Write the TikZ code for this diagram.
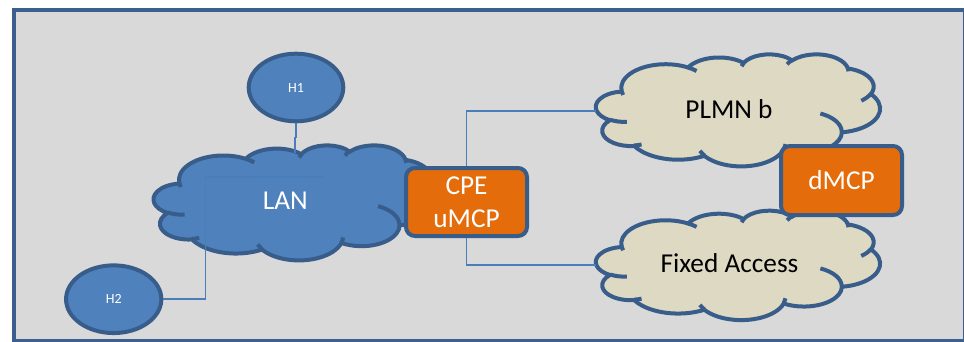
\documentclass[tikz,border=0pt]{standalone}
\usepackage{fontspec}
\setmainfont{Carlito}
\usetikzlibrary{shapes.geometric}

\definecolor{bggray}{HTML}{D9D9D9}
\definecolor{edgeblue}{HTML}{385D8A}
\definecolor{frameblue}{HTML}{3B5F8E}
\definecolor{lanblue}{HTML}{4F81BD}
\definecolor{wireblue}{HTML}{4A7EBB}
\definecolor{sand}{HTML}{DDD9C3}
\definecolor{mcporange}{HTML}{E46C0A}

% elliptical arc given by its visual start angle and sweep (cloud outline)
\newcommand\carc[4]{arc[x radius=#1, y radius=#2,
  start angle={cpa(#1,#2,#3)},
  delta angle={#4+cdv(#1,#2,#3+#4)-cdv(#1,#2,#3)}]}

% cloud outline in a 432 x 432 box: #1 fill, #2/#3 top left corner, #4 width, #5 height
\newcommand\pcloud[5]{%
  \pgfmathsetmacro\pcsx{#4/432}%
  \pgfmathsetmacro\pcsy{#5/432}%
  \begin{scope}[shift={(#2,#3)}, x=\pcsx pt, y=-\pcsy pt]
    \path[cloudline, fill=#1]
      (39.00,143.70)
      \carc{67.53}{91.90}{-190.48748}{123.78053}
      \carc{53.33}{72.67}{-144.10238}{89.94523}
      \carc{43.65}{59.45}{-145.80792}{99.72302}
      \carc{48.57}{65.95}{-130.98607}{117.24173}
      \carc{53.33}{72.73}{-78.70888}{109.02692}
      \carc{67.75}{92.20}{-46.26725}{130.269}
      \carc{57.85}{78.67}{0.62502}{114.03333}
      \carc{67.52}{92.15}{22.4516}{115.17255}
      \carc{77.20}{105.43}{66.24263}{75.71102}
      \carc{43.60}{59.18}{-274.94208}{146.73557}
      \carc{43.45}{59.45}{-246.8285}{152.51885}
      -- cycle;
    \path[cloudline]
      (46.93,261.77) \carc{43.45}{59.45}{86.742}{26.4295}
      (69.28,348.99) \carc{43.60}{59.18}{73.61047}{11.44747}
      (164.78,390.90) \carc{67.52}{92.15}{137.62415}{14.0811}
      (288.27,347.51) \carc{67.52}{92.15}{6.45327}{15.99835}
      (341.29,229.54) \carc{57.85}{78.67}{-70.29235}{70.91737}
      (417.98,153.54) \carc{53.33}{72.73}{30.31803}{27.7515}
      (383.24,54.26) \carc{48.57}{65.95}{-13.74433}{14.8589}
      (290.78,39.52) \carc{48.57}{65.95}{-149.18145}{18.19537}
      (221.41,47.20) \carc{43.65}{59.45}{-163.49427}{17.68635}
      (140.00,51.92) \carc{67.53}{91.90}{-66.70695}{12.31935}
      (41.27,157.89) \carc{67.53}{91.90}{157.65435}{11.85817};
  \end{scope}}

\begin{document}
\begin{tikzpicture}[x=1pt, y=-1pt,
  declare function={
    cpa(\rx,\ry,\ang)=atan2(\rx*sin(\ang),\ry*cos(\ang));
    cdv(\rx,\ry,\ang)=atan2(sin(cpa(\rx,\ry,\ang)-(\ang)),cos(cpa(\rx,\ry,\ang)-(\ang)));
  },
  cloudline/.style={draw=edgeblue, line width=4pt},
  frame/.style={draw=frameblue, line width=4pt, fill=bggray},
  host/.style={ellipse, draw=edgeblue, line width=4pt, fill=lanblue, inner sep=0pt,
    text=white, font=\fontsize{14}{16}\selectfont},
  mcpbox/.style={rectangle, rounded corners=9pt, draw=edgeblue, line width=4pt,
    fill=mcporange, inner sep=0pt, minimum width=121pt, text=white, align=center,
    font=\fontsize{27.3}{33.3}\selectfont},
  cloudtext/.style={anchor=base, inner sep=0pt, font=\fontsize{27.3}{31}\selectfont},
  wire/.style={draw=wireblue, line width=1.6pt},
]
\useasboundingbox (0,0) rectangle (964,341);
\fill[white] (0,0) rectangle (964,341);
\path[frame] (13.8,9.7) rectangle (964.6,340.6);

% LAN cloud and its hosts
\pcloud{lanblue}{153.7}{145}{284}{115}
\coordinate (lantop) at (295,153);
\coordinate (lanin) at (323,177);
\node[cloudtext, text=white] (lanlabel) at (285.3,209.3) {LAN};

\node[host, minimum width=94.6pt, minimum height=67.6pt] (h1) at (296,87.5) {H1};
\node[host, minimum width=95.3pt, minimum height=67.7pt] (h2) at (113.7,299.2) {H2};
\draw[wire] (h1.south) -- ++(0,14) -| (lantop);
\draw[wire] (h2.east) -- ++(42,0) |- (lanin);

% access clouds
\pcloud{sand}{596}{54}{284}{112}
\node[cloudtext] (plmnlabel) at (729,118.3) {PLMN b};
\pcloud{sand}{596}{210.3}{284}{109.4}
\node[cloudtext] (fixedlabel) at (729.5,272.7) {Fixed Access};
\coordinate (plmnw) at (596,110.7);
\coordinate (fixedw) at (596,265);

% MCP boxes
\node[mcpbox, minimum height=68pt] (cpe) at (466.5,202) {CPE\\uMCP};
\node[mcpbox, minimum height=69pt] (dmcp) at (841.5,180.5) {dMCP};
\draw[wire] (cpe.north) |- (plmnw);
\draw[wire] (cpe.south) |- (fixedw);
\end{tikzpicture}
\end{document}
